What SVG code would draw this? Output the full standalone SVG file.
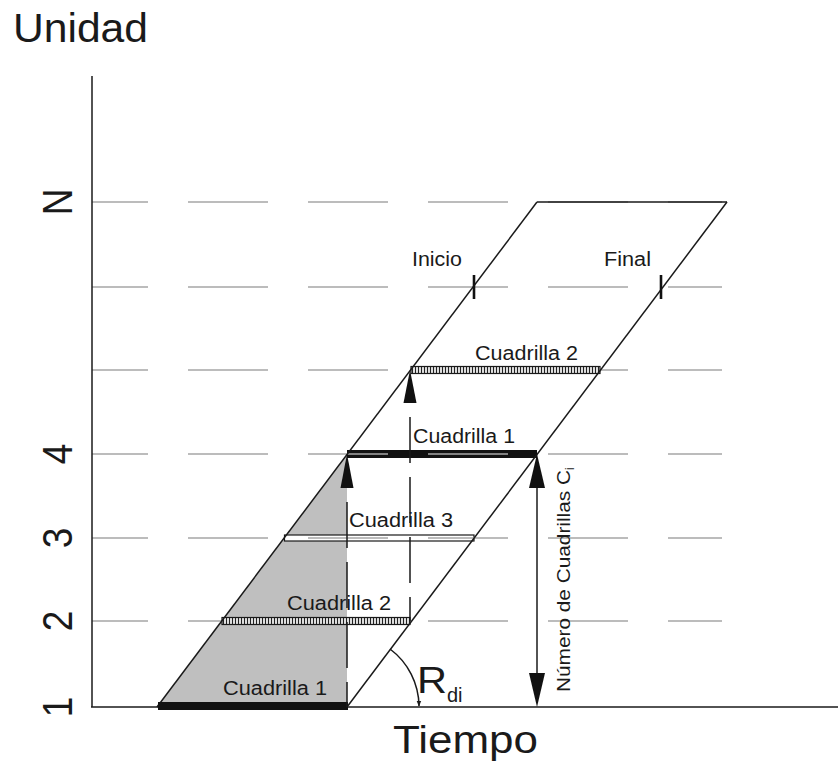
<svg xmlns="http://www.w3.org/2000/svg" width="838" height="767" viewBox="0 0 838 767">
<defs>
<style>
.t{font-family:"Liberation Sans",Arial,sans-serif;fill:#1a1a1a}
.grid{stroke:#a6a6a6;stroke-width:1.6;stroke-dasharray:80 40;stroke-dashoffset:24;fill:none}
.ln{stroke:#1a1a1a;stroke-width:1.5;fill:none}
.vd{stroke:#1a1a1a;stroke-width:1.5;stroke-dasharray:46 14;fill:none}
</style>
<pattern id="hatch" width="3" height="8" patternUnits="userSpaceOnUse">
<rect width="3" height="8" fill="#e8e8e8"/>
<line x1="1.5" y1="0" x2="1.5" y2="8" stroke="#222" stroke-width="1.1"/>
</pattern>
<marker id="ah" viewBox="0 0 10 10" refX="9" refY="5" markerWidth="6" markerHeight="6" orient="auto" markerUnits="userSpaceOnUse">
<path d="M0,1 L10,5 L0,9 z" fill="#1a1a1a"/>
</marker>
</defs>
<rect width="838" height="767" fill="#fff"/>

<g id="shading">
<polygon points="157,707 347,454 347,707" fill="#bfbfbf"/>
</g>

<g id="bar-c1-top"><rect x="347" y="450" width="190" height="8" fill="#111"/></g>
<g id="bar-c3"><rect x="284.5" y="535" width="189.5" height="6" fill="#fff" stroke="#1a1a1a" stroke-width="1.2"/></g>

<g id="gridlines">
<line class="grid" x1="92" y1="202" x2="722" y2="202"/>
<line class="grid" x1="92" y1="287" x2="722" y2="287"/>
<line class="grid" x1="92" y1="370" x2="722" y2="370"/>
<line class="grid" x1="92" y1="454" x2="722" y2="454"/>
<line class="grid" x1="92" y1="538" x2="722" y2="538"/>
<line class="grid" x1="92" y1="621" x2="722" y2="621"/>
</g>

<g id="bar-c2-low"><rect x="222" y="617.5" width="188" height="7" fill="url(#hatch)" stroke="#1a1a1a" stroke-width="1.2"/></g>
<g id="bar-c2-top"><rect x="411" y="366.5" width="189" height="7" fill="url(#hatch)" stroke="#1a1a1a" stroke-width="1.2"/></g>

<g id="parallelogram">
<line class="ln" x1="157" y1="707" x2="537" y2="202"/>
<line class="ln" x1="347" y1="707" x2="727" y2="202"/>
<line class="ln" x1="537" y1="202" x2="727" y2="202"/>
</g>

<g id="axes">
<line class="ln" x1="92" y1="76" x2="92" y2="707"/>
<line class="ln" x1="91" y1="707" x2="838" y2="707"/>
</g>

<g id="bar-c1-bottom"><rect x="158" y="702" width="190" height="8" fill="#111"/></g>

<g id="connectors">
<line class="vd" x1="347" y1="502" x2="347" y2="707"/>
<polygon points="347,454 340.5,488 353.5,488" fill="#111"/>
<line class="vd" x1="410" y1="417" x2="410" y2="621"/>
<polygon points="410,370 403.5,403 416.5,403" fill="#111"/>
<line class="ln" x1="537" y1="480" x2="537" y2="680"/>
<polygon points="537,454 529,488 545,488" fill="#111"/>
<polygon points="537,707 529,673 545,673" fill="#111"/>
<line x1="474" y1="275" x2="474" y2="299" stroke="#111" stroke-width="2.6"/>
<line x1="661" y1="275" x2="661" y2="299" stroke="#111" stroke-width="2.6"/>
<path class="ln" d="M390,649 A72,72 0 0 1 419,706" marker-end="url(#ah)"/>
</g>

<g id="labels">
<text class="t" x="13" y="42" font-size="40" textLength="135" lengthAdjust="spacingAndGlyphs">Unidad</text>
<text class="t" x="393" y="753" font-size="38" textLength="145" lengthAdjust="spacingAndGlyphs">Tiempo</text>
<text class="t" font-size="37" text-anchor="middle" transform="translate(72,202) scale(1.15,1) rotate(-90)">N</text>
<text class="t" font-size="37" text-anchor="middle" transform="translate(72,454) scale(1.15,1) rotate(-90)">4</text>
<text class="t" font-size="37" text-anchor="middle" transform="translate(72,538) scale(1.15,1) rotate(-90)">3</text>
<text class="t" font-size="37" text-anchor="middle" transform="translate(72,621) scale(1.15,1) rotate(-90)">2</text>
<text class="t" font-size="37" text-anchor="middle" transform="translate(72,707) scale(1.15,1) rotate(-90)">1</text>
<text class="t" x="412" y="266" font-size="20" textLength="50" lengthAdjust="spacingAndGlyphs">Inicio</text>
<text class="t" x="604" y="266" font-size="20" textLength="47" lengthAdjust="spacingAndGlyphs">Final</text>
<text class="t" x="475" y="360" font-size="20" textLength="103" lengthAdjust="spacingAndGlyphs">Cuadrilla 2</text>
<text class="t" x="413" y="443" font-size="20" textLength="102" lengthAdjust="spacingAndGlyphs">Cuadrilla 1</text>
<text class="t" x="349" y="527" font-size="20" textLength="104" lengthAdjust="spacingAndGlyphs">Cuadrilla 3</text>
<text class="t" x="287" y="610" font-size="20" textLength="104" lengthAdjust="spacingAndGlyphs">Cuadrilla 2</text>
<text class="t" x="223" y="695" font-size="20" textLength="104" lengthAdjust="spacingAndGlyphs">Cuadrilla 1</text>
<text class="t" font-size="18" transform="translate(570,692) rotate(-90)"><tspan textLength="222" lengthAdjust="spacingAndGlyphs">Número de Cuadrillas C</tspan><tspan font-size="12" dy="4">i</tspan></text>
<text class="t" x="417" y="693" font-size="36" textLength="30" lengthAdjust="spacingAndGlyphs">R</text>
<text class="t" x="447" y="702" font-size="20">di</text>
</g>
</svg>
